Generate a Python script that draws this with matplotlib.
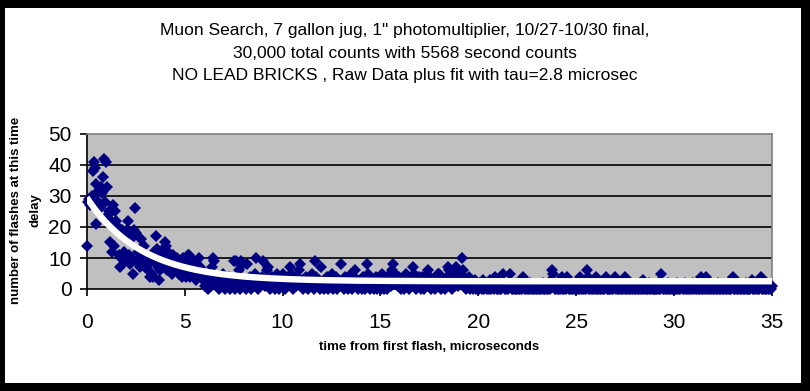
"""
Muon decay scatter: raw counts per time bin plus exponential fit
"""
import matplotlib
matplotlib.use("Agg")
import matplotlib.pyplot as plt
from matplotlib.patches import Rectangle
import numpy as np

plt.rcParams['font.family'] = ['Liberation Sans', 'DejaVu Sans']

title = ("Muon Search, 7 gallon jug, 1\" photomultiplier, 10/27-10/30 final,\n"
         "30,000 total counts with 5568 second counts\n"
         "NO LEAD BRICKS , Raw Data plus fit with tau=2.8 microsec")
x_label = "time from first flash, microseconds"
y_label = "number of flashes at this time\ndelay"

bin_width = 0.05  # microseconds

# counts for t = 0.00 .. 5.95
counts_00_06 = [
    14, 28, 29, 27, 28, 30, 38, 41, 39, 21, 34, 31, 28, 32, 26, 33, 31, 36, 42, 28,
    41, 33, 24, 25, 15, 22, 12, 27, 14, 25, 22, 20, 20, 11, 7, 10, 19, 10, 12, 9,
    18, 19, 22, 11, 8, 16, 10, 5, 19, 26, 18, 9, 12, 8, 7, 16, 10, 14, 9, 14,
    7, 11, 8, 6, 8, 4, 10, 5, 4, 12, 9, 17, 13, 7, 3, 6, 9, 11, 7, 13,
    15, 14, 6, 12, 9, 8, 10, 5, 11, 7, 9, 6, 10, 8, 5, 9, 7, 4, 10, 6,
    8, 4, 9, 11, 6, 11, 4, 8, 5, 7, 9, 5, 3, 8, 6, 10, 7, 4, 5, 3,
]
# t = 6.00 .. 9.95
counts_06_10 = [
    3, 1, 5, 2, 0, 4, 2, 1, 7, 10, 9, 3, 2, 1, 4, 0, 2, 3, 1, 5,
    2, 0, 1, 3, 1, 4, 0, 2, 3, 1, 9, 0, 2, 9, 1, 3, 6, 0, 9, 2,
    8, 1, 3, 0, 8, 2, 1, 4, 0, 2, 3, 1, 5, 10, 2, 0, 3, 1, 2, 4,
    9, 2, 1, 3, 6, 7, 1, 0, 2, 4, 1, 3, 0, 2, 5, 1, 0, 3, 2, 4,
]
# t = 10.00 .. 14.95
counts_10_15 = [
    5, 1, 2, 0, 3, 1, 4, 2, 7, 5, 1, 0, 2, 3, 1, 4, 2, 6, 8, 1,
    3, 0, 2, 1, 4, 2, 0, 3, 1, 2, 5, 1, 0, 9, 4, 2, 1, 3, 0, 7,
    1, 2, 0, 3, 1, 4, 0, 2, 1, 3, 2, 5, 0, 1, 2, 4, 0, 3, 1, 2,
    8, 1, 2, 0, 4, 1, 3, 0, 2, 1, 5, 0, 2, 4, 6, 1, 3, 0, 2, 1,
    2, 0, 4, 1, 0, 3, 8, 5, 1, 0, 2, 1, 3, 0, 1, 2, 4, 0, 1, 2,
]
# t = 15.00 .. 19.95
counts_15_20 = [
    1, 0, 5, 2, 0, 1, 3, 0, 4, 2, 5, 1, 6, 8, 4, 5, 2, 3, 1, 4,
    2, 0, 1, 3, 0, 4, 5, 1, 2, 0, 3, 1, 4, 7, 5, 2, 0, 1, 3, 4,
    1, 0, 2, 4, 1, 0, 3, 2, 5, 6, 4, 1, 0, 2, 3, 1, 0, 4, 2, 5,
    5, 2, 0, 1, 3, 1, 0, 2, 4, 7, 6, 3, 1, 0, 2, 4, 5, 7, 3, 1,
    2, 4, 5, 10, 6, 3, 1, 0, 2, 1, 3, 4, 0, 1, 2, 0, 1, 3, 0, 1,
]
# t = 20.00 .. 24.95
counts_20_25 = [
    1, 0, 2, 1, 0, 3, 0, 1, 2, 0, 1, 0, 3, 0, 1, 2, 0, 4, 3, 0,
    0, 1, 0, 0, 2, 5, 1, 0, 0, 1, 0, 2, 5, 1, 0, 0, 1, 0, 0, 2,
    0, 1, 0, 0, 2, 0, 4, 1, 0, 0, 1, 0, 0, 2, 0, 1, 0, 0, 1, 0,
    0, 1, 0, 0, 1, 0, 2, 0, 0, 1, 0, 0, 1, 0, 3, 6, 5, 1, 0, 0,
    1, 0, 0, 2, 0, 4, 1, 0, 0, 1, 0, 4, 1, 0, 0, 2, 0, 0, 1, 0,
]
# t = 25.00 .. 29.95
counts_25_30 = [
    0, 1, 0, 0, 4, 0, 1, 0, 0, 2, 0, 6, 4, 0, 0, 1, 0, 0, 2, 0,
    4, 0, 0, 1, 0, 0, 2, 0, 0, 1, 4, 0, 0, 1, 0, 0, 2, 0, 0, 1,
    4, 0, 1, 0, 0, 2, 0, 0, 1, 0, 4, 0, 0, 1, 0, 0, 2, 0, 0, 1,
    0, 0, 1, 0, 0, 2, 0, 0, 3, 0, 1, 0, 0, 0, 2, 0, 0, 1, 0, 0,
    0, 1, 0, 0, 2, 0, 0, 5, 1, 0, 0, 1, 0, 0, 2, 0, 0, 1, 0, 0,
]
# t = 30.00 .. 35.00
counts_30_35 = [
    1, 0, 0, 2, 0, 0, 0, 1, 1, 0, 0, 2, 0, 0, 1, 0, 0, 1, 0, 2,
    0, 1, 0, 0, 2, 0, 0, 4, 1, 0, 0, 1, 0, 4, 0, 0, 2, 0, 0, 1,
    0, 0, 1, 0, 0, 2, 0, 0, 0, 1, 0, 0, 1, 0, 0, 2, 0, 0, 0, 1,
    4, 0, 0, 1, 0, 0, 2, 0, 0, 1, 0, 0, 0, 2, 0, 0, 1, 0, 0, 1,
    3, 0, 0, 1, 0, 2, 0, 0, 1, 4, 0, 0, 1, 0, 0, 2, 0, 0, 1, 0,
    1,
]

# fit: counts = fit_amp * exp(-t / tau) + fit_base
tau = 2.8
fit_amp = 27.0
fit_base = 2.5

x_ticks = [0, 5, 10, 15, 20, 25, 30, 35]
y_ticks = [0, 10, 20, 30, 40, 50]

counts = np.array(counts_00_06 + counts_06_10 + counts_10_15 + counts_15_20
                  + counts_20_25 + counts_25_30 + counts_30_35)
times = np.arange(len(counts)) * bin_width
fit_t = np.linspace(0, 35, 400)
fit_y = fit_amp * np.exp(-fit_t / tau) + fit_base

fig = plt.figure(figsize=(8.10, 3.91), dpi=100)
fig.patch.set_facecolor('black')
fig.patches.append(Rectangle((5 / 810, 8 / 391), 796 / 810, 375 / 391,
                             transform=fig.transFigure, facecolor='white',
                             edgecolor='none', zorder=-10))

ax = fig.add_axes([86.7 / 810, 1 - 289 / 391, 685.3 / 810, 155 / 391])
ax.set_zorder(1)
ax.set_facecolor('#C0C0C0')
ax.set_xlim(0, 35)
ax.set_ylim(0, 50)

for v in y_ticks[1:-1]:
    ax.axhline(v, color='black', lw=1.2, zorder=1)

ax.plot(times, counts, linestyle='none', marker='D', ms=6.4, mew=0,
        color='#000080', clip_on=False, zorder=3)
ax.plot(fit_t, fit_y, color='white', lw=4.6, solid_capstyle='butt', zorder=4)

for side in ['top', 'right']:
    ax.spines[side].set_color('#808080')
    ax.spines[side].set_linewidth(1.2)
for side in ['left', 'bottom']:
    ax.spines[side].set_color('black')
    ax.spines[side].set_linewidth(1.2)
ax.spines['bottom'].set_zorder(2)

ax.set_xticks(x_ticks)
ax.set_yticks(y_ticks)
ax.tick_params(direction='out', length=5, width=1.2, labelsize=15)
ax.tick_params(axis='x', pad=12)
ax.tick_params(axis='y', pad=6)

ax.set_xlabel(x_label, fontsize=9.5, fontweight='bold', labelpad=7)
ax.set_ylabel(y_label, fontsize=9.5, fontweight='bold', linespacing=1.85,
              ha='center', va='center')
ax.yaxis.set_label_coords((25.5 - 86.7) / 685.3, 0.51)
fig.text(405 / 810, 1 - 53 / 391, title, ha='center', va='center',
         fontsize=12.5, linespacing=1.62)

fig.savefig('out.png', dpi=100, facecolor=fig.get_facecolor())
